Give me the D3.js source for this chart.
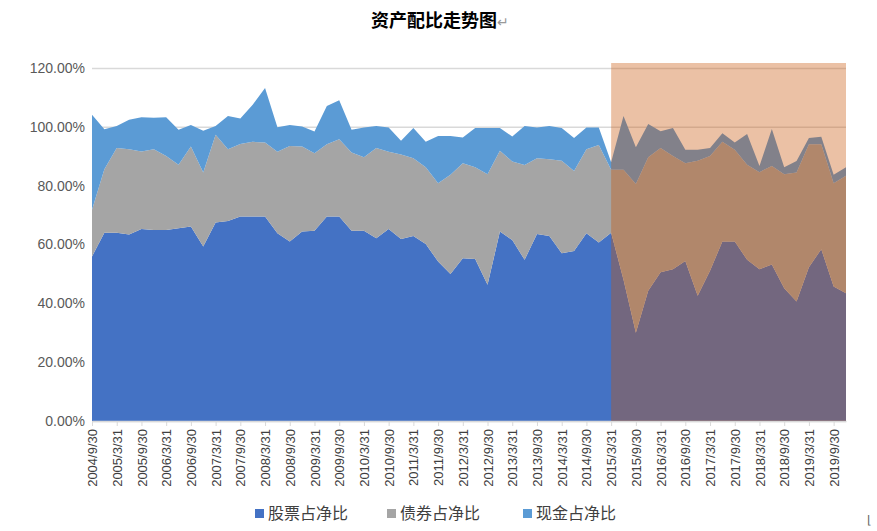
<!doctype html>
<html lang="zh">
<head>
<meta charset="utf-8">
<script src="https://cdn.jsdelivr.net/npm/d3@7/dist/d3.min.js"></script>
<style>
  body {margin:0; background:#fff}
  svg {display:block}
  text {font-family:"Liberation Sans", Arial, sans-serif}
  .legend text {font-family:"Noto Sans CJK SC", serif; font-size:16px; fill:#404040}
</style>
</head>
<body>
<script>
// quarterly categories 2004/9/30 .. 2019/12/31
let quarterEnds = ["3/31", "6/30", "9/30", "12/31"];
let dates = [];
for (let y = 2004; y <= 2019; y++) {
  for (let q = 0; q < 4; q++) {
    if (y == 2004 && q < 2) continue;
    dates.push(y + "/" + quarterEnds[q]);
  }
}

let seriesNames = ["股票占净比", "债券占净比", "现金占净比"];

let stock = [55.9,64,64,63.4,65.3,64.9,64.9,65.5,66.1,59.3,67.5,68,69.5,69.5,69.5,63.8,61,64.4,64.7,69.5,
  69.5,64.7,64.7,62.1,65.3,61.9,62.9,60.2,54.2,50,55.3,55.1,46.3,64.4,61.5,54.8,63.6,62.9,57,57.8,
  63.8,60.7,64,48,30,44.3,50.6,51.6,54.4,42.6,51.1,61,61,54.8,51.6,53.2,45.1,40.6,52.3,58.4,45.7,43.4];

let bond = [15.9,21.6,28.8,29.0,26.3,27.5,25.2,21.6,27.2,25.2,29.8,24.4,24.7,25.4,25.2,27.7,32.5,28.9,26.3,24.6,
  26.3,26.6,25.0,30.7,26.2,28.7,26.4,26.1,26.6,33.7,32.3,31.2,37.6,27.5,26.7,32.2,25.7,26.1,31.5,27.2,
  28.6,33.1,21.4,37.4,50.6,45.4,42.2,38.5,33.2,45.9,39.0,33.9,31.2,32.3,33.0,33.5,38.8,43.9,41.8,35.7,35.1,40.0];

let cash = [32.3,13.6,7.5,10.0,11.7,10.7,13.2,11.9,7.3,14.2,3.0,11.3,8.6,12.6,18.5,8.4,7.1,6.8,7.4,13.0,
  13.2,7.7,10.1,7.5,8.3,4.7,10.3,8.6,16.1,13.2,8.8,13.3,15.7,7.7,8.5,13.3,10.5,11.3,11.1,11.2,
  7.4,6.0,2.6,18.3,12.5,11.3,5.7,9.5,4.6,3.7,2.7,2.9,2.5,10.5,2.1,12.6,2.4,3.9,2.1,2.5,2.9,2.9];

let yTicks = [0, 20, 40, 60, 80, 100, 120];
let highlightFrom = "2015/3/31";

let colors = ["#4472C4", "#A5A5A5", "#5B9BD5"];

let margin = {top:68, left:92, right:31, bottom:110};
let W = 877, H = 531;
let w = W - margin.left - margin.right;
let h = H - margin.top - margin.bottom;

let rows = dates.map((d, i) => ({date:d, s0:stock[i], s1:bond[i], s2:cash[i]}));
let stacked = d3.stack().keys(["s0", "s1", "s2"])(rows);

let x = d3.scalePoint().domain(dates).range([0, w]);
let y = d3.scaleLinear().domain([0, 120]).range([h, 0]);

let svg = d3.select("body").append("svg").attr("width", W).attr("height", H);

svg.append("text")
  .attr("x", 440).attr("y", 27)
  .attr("text-anchor", "middle")
  .attr("font-size", "18px").attr("font-weight", "bold")
  .style("font-family", "'Noto Sans CJK SC', sans-serif")
  .text("资产配比走势图")
  .append("tspan").attr("fill", "#999").attr("font-weight", "normal").attr("font-size", "14px").text("↵");

let g = svg.append("g").attr("transform", "translate(" + margin.left + "," + margin.top + ")");

// gridlines + y labels
let yAxis = d3.axisLeft(y).tickValues(yTicks).tickSize(-w).tickFormat(d => d.toFixed(2) + "%");
g.append("g").call(yAxis)
  .call(a => a.select(".domain").remove())
  .call(a => a.selectAll("line").attr("stroke", "#d9d9d9").attr("stroke-width", 1.5))
  .call(a => a.selectAll("text").attr("fill", "#595959").attr("font-size", "14px").attr("dx", "-4"));

let area = d3.area()
  .x(d => x(d.data.date))
  .y0(d => y(d[0]))
  .y1(d => y(d[1]));

g.selectAll(".layer").data(stacked).enter().append("path")
  .attr("class", "layer")
  .attr("fill", (d, i) => colors[i])
  .attr("d", area);

// x axis
let labelDates = dates.filter((d, i) => i % 2 == 0);
let xAxis = d3.axisBottom(x).tickValues(labelDates).tickSize(5).tickSizeOuter(0);
g.append("g").attr("transform", "translate(0," + h + ")").call(xAxis)
  .call(a => a.select(".domain").attr("stroke", "#d9d9d9").attr("stroke-width", 1.5))
  .call(a => a.selectAll("line").attr("stroke", "#d9d9d9"))
  .call(a => a.selectAll("text")
    .attr("fill", "#404040").attr("font-size", "13px")
    .attr("transform", "rotate(-90)")
    .attr("text-anchor", "end")
    .attr("x", -8).attr("y", 0).attr("dy", "0.35em"));

// highlighted period
let x0 = x(highlightFrom);
g.append("rect")
  .attr("x", x0).attr("y", y(120) - 5)
  .attr("width", w - x0).attr("height", h - y(120) + 5)
  .attr("fill", "rgb(199,82,6)").attr("fill-opacity", 0.36);

// legend
let legendX = [255, 387, 523];
let legend = svg.append("g").attr("class", "legend");
seriesNames.forEach((n, i) => {
  legend.append("rect").attr("x", legendX[i]).attr("y", 509).attr("width", 9).attr("height", 9).attr("fill", colors[i]);
  legend.append("text").attr("x", legendX[i] + 13).attr("y", 519).text(n);
});

svg.append("text").attr("x", 867).attr("y", 524).attr("fill", "#666").attr("font-size", "12px").text("⌊");
</script>
</body>
</html>
